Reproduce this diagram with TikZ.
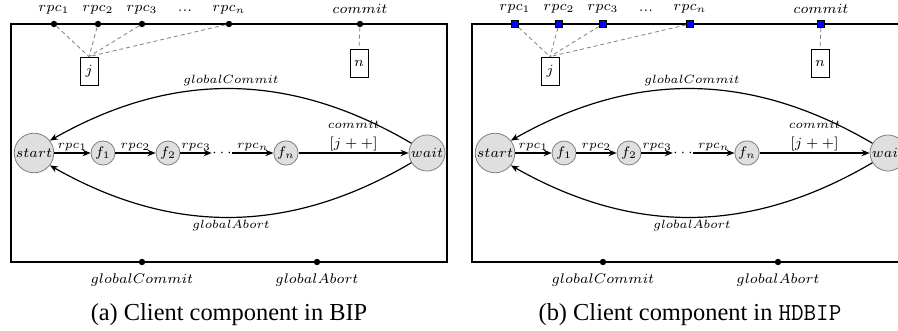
\documentclass[tikz,border=0pt]{standalone}
\usepackage{fontspec}
\setmainfont{Liberation Serif}
\usetikzlibrary{arrows.meta,positioning}

\tikzset{
  frame/.style={line width=0.6pt},
  state/.style={circle, draw=gray, fill=gray!25, inner sep=0.5pt, minimum size=12pt, font=\fontsize{7}{8}\selectfont},
  trans/.style={-{Stealth[length=4pt,width=3.2pt]}, semithick},
  lbl/.style={font=\fontsize{6.3}{7}\selectfont, inner sep=1pt},
  guard/.style={font=\fontsize{7}{8}\selectfont, inner sep=0.5pt},
  portlbl/.style={font=\fontsize{7.5}{9}\selectfont, inner sep=1pt},
  dot/.style={circle, fill=black, inner sep=0pt, minimum size=3.2pt},
  bluesq/.style={rectangle, fill=blue, draw=black, line width=0.3pt, inner sep=0pt, minimum size=3.6pt},
  databox/.style={draw, rectangle, inner sep=1pt, minimum width=9pt, minimum height=14pt, font=\fontsize{7.5}{9}\selectfont},
  link/.style={gray, dash pattern=on 2pt off 1.5pt, line width=0.4pt},
  caption/.style={font=\fontsize{12.2}{14}\selectfont, inner sep=0pt}
}

% one client component, #1 = style of the top ports, #2 = caption
\newcommand{\drawclient}[2]{%
  \draw[frame] (11,24) rectangle (447,262);
  % ports on top
  \node[#1] (p1) at (54,24) {};
  \node[#1] (p2) at (98,24) {};
  \node[#1] (p3) at (142,24) {};
  \node[#1] (pn) at (229,24) {};
  \node[#1] (pc) at (360,24) {};
  \node[portlbl, above=2pt of p1] {$rpc_1$};
  \node[portlbl, above=2pt of p2] {$rpc_2$};
  \node[portlbl, above=2pt of p3] {$rpc_3$};
  \node[portlbl, above=2pt of pn] {$rpc_n$};
  \node[portlbl, above=2pt of pc] {$commit$};
  \node[portlbl] (pdots) at (185,11) {$...$};
  % variables
  \node[databox] (j) at (89,71) {$j$};
  \node[databox] (n) at (359,63) {$n$};
  \foreach \p in {p1,p2,p3,pn}
    \draw[link] (\p) -- (j.north);
  \draw[link] (pc) -- (n.north);
  % states
  \node[state] (s0) at (34,153) {$start$};
  \node[state] (f1) at (103,153) {$f_1$};
  \node[state] (f2) at (168,153) {$f_2$};
  \node[inner sep=0pt, font=\fontsize{7}{8}\selectfont] (dots) at (222,153) {$\cdots$};
  \node[state] (fn) at (286,153) {$f_n$};
  \node[state] (sw) at (427,153) {$wait$};
  \draw[trans] (s0.east) -- node[lbl, above] {$rpc_1$} (f1);
  \draw[trans] (f1) -- node[lbl, above] {$rpc_2$} (f2);
  \draw[trans] (f2) -- node[lbl, above] {$rpc_3$} (dots);
  \draw[trans] (dots) -- node[lbl, above] {$rpc_n$} (fn);
  \draw[trans] (fn) -- node[guard, above] (jinc) {$[j++]$} (sw);
  \node[lbl, above=2.5pt of jinc] {$commit$};
  \draw[trans] (sw.148) to[bend right=30] node[lbl, above] {$globalCommit$} (s0.38);
  \draw[trans] (sw.212) to[bend left=30] node[lbl, below] {$globalAbort$} (s0.-38);
  % ports at the bottom
  \node[dot] (gc) at (142,262) {};
  \node[dot] (ga) at (317,262) {};
  \node[portlbl, below=3pt of gc] {$globalCommit$};
  \node[portlbl, below=3pt of ga] {$globalAbort$};
  \node[caption, anchor=base] (cap) at (229,320) {#2};
}

\begin{document}
\begin{tikzpicture}[x=0.5pt, y=-0.5pt]
  \clip (0,0) rectangle (898,331);
  \begin{scope}[name prefix=a-]
    \drawclient{dot}{(a) Client component in BIP}
  \end{scope}
  \begin{scope}[xshift=230.5pt, name prefix=b-]
    \drawclient{bluesq}{(b) Client component in \texttt{HDBIP}}
  \end{scope}
\end{tikzpicture}
\end{document}
